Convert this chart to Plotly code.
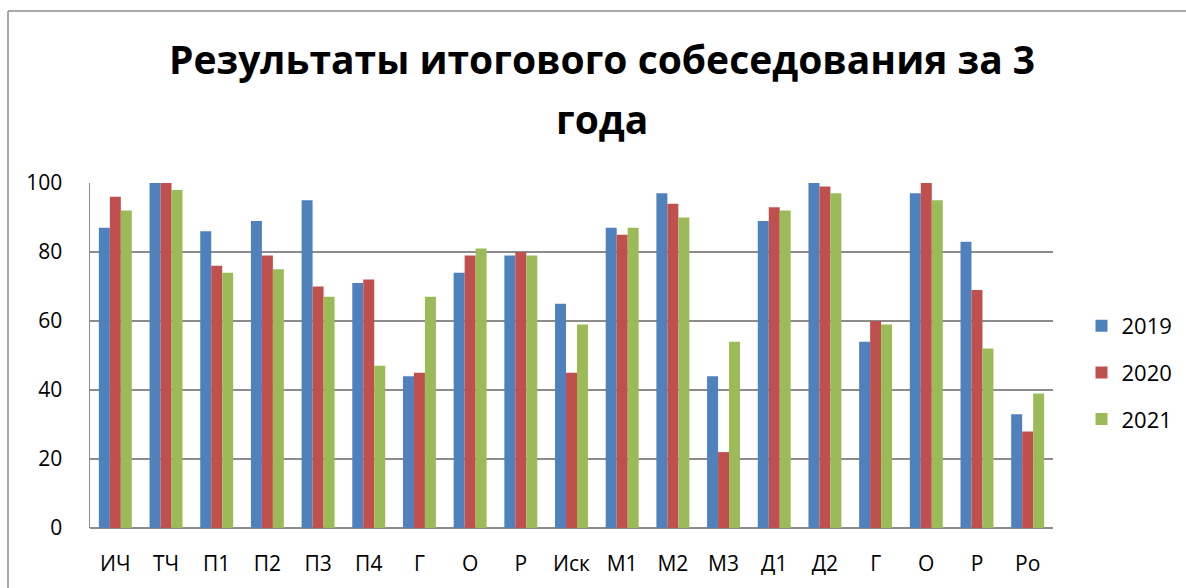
import plotly.graph_objects as go

categories = ["ИЧ", "ТЧ", "П1", "П2", "П3", "П4", "Г", "О", "Р", "Иск",
              "М1", "М2", "М3", "Д1", "Д2", "Г", "О", "Р", "Ро"]
years = ["2019", "2020", "2021"]
values_2019 = [87, 100, 86, 89, 95, 71, 44, 74, 79, 65, 87, 97, 44, 89, 100, 54, 97, 83, 33]
values_2020 = [96, 100, 76, 79, 70, 72, 45, 79, 80, 45, 85, 94, 22, 93, 99, 60, 100, 69, 28]
values_2021 = [92, 98, 74, 75, 67, 47, 67, 81, 79, 59, 87, 90, 54, 92, 97, 59, 95, 52, 39]
colors = ["#4F81BD", "#C0504D", "#9BBB59"]
y_ticks = [0, 20, 40, 60, 80, 100]
title_lines = ["Результаты итогового собеседования за 3", "года"]

positions = list(range(len(categories)))

fig = go.Figure()
for name, vals, col in zip(years, [values_2019, values_2020, values_2021], colors):
    fig.add_trace(go.Bar(
        x=positions, y=vals, name=name, legendgroup=name,
        marker=dict(color=col, line=dict(width=0)),
    ))

GRID = "#8c8c8c"
PLOT_H = 345
PLOT_TOP = 183
PLOT_L = 90
PLOT_W = 963


def py(p):
    # pixel row -> paper y
    return (PLOT_TOP + PLOT_H - p) / PLOT_H


def px(p):
    # pixel column -> paper x
    return (p - PLOT_L) / PLOT_W


title_tops = [30, 90]
annotations = [
    dict(
        text="<b>%s</b>" % line, xref="paper", yref="paper",
        x=px(602), xanchor="center",
        y=py(top), yanchor="top", showarrow=False,
        font=dict(family="Open Sans", size=39, color="black"),
    )
    for line, top in zip(title_lines, title_tops)
]

frame = dict(color=GRID, width=1.5)
shapes = [
    dict(type="line", xref="paper", yref="paper", layer="below",
         x0=px(8), x1=px(1186), y0=py(11), y1=py(11), line=frame),
    dict(type="line", xref="paper", yref="paper", layer="below",
         x0=px(8), x1=px(8), y0=py(11), y1=py(588), line=frame),
]

fig.update_layout(
    width=1186, height=588,
    paper_bgcolor="white", plot_bgcolor="white",
    margin=dict(l=90, r=133, t=183, b=60, autoexpand=False),
    barmode="group", bargap=0.35, bargroupgap=0,
    font=dict(family="Open Sans", size=21, color="black"),
    hovermode=False,
    xaxis=dict(
        range=[-0.5, len(categories) - 0.5], automargin=False, fixedrange=True,
        tickmode="array", tickvals=positions, ticktext=categories,
        showgrid=False, zeroline=False, showline=False, ticks="",
        ticklabelstandoff=21,
        tickfont=dict(size=21),
    ),
    yaxis=dict(
        range=[0, 100], tickmode="array", tickvals=y_ticks, automargin=False,
        fixedrange=True,
        showgrid=True, gridcolor=GRID, gridwidth=1.5,
        zeroline=True, zerolinecolor=GRID, zerolinewidth=1.5,
        showline=True, linecolor=GRID, linewidth=1.5, ticks="",
        ticklabelstandoff=22,
        tickfont=dict(size=21),
    ),
    legend=dict(
        x=px(1081.5), xanchor="left", y=py(305), yanchor="top",
        font=dict(size=22), tracegroupgap=15,
        bgcolor="rgba(0,0,0,0)", borderwidth=0,
    ),
    annotations=annotations,
    shapes=shapes,
)

fig.write_html("out.html", config={"displayModeBar": False, "staticPlot": True},
               post_script="document.body.style.margin='0';")
